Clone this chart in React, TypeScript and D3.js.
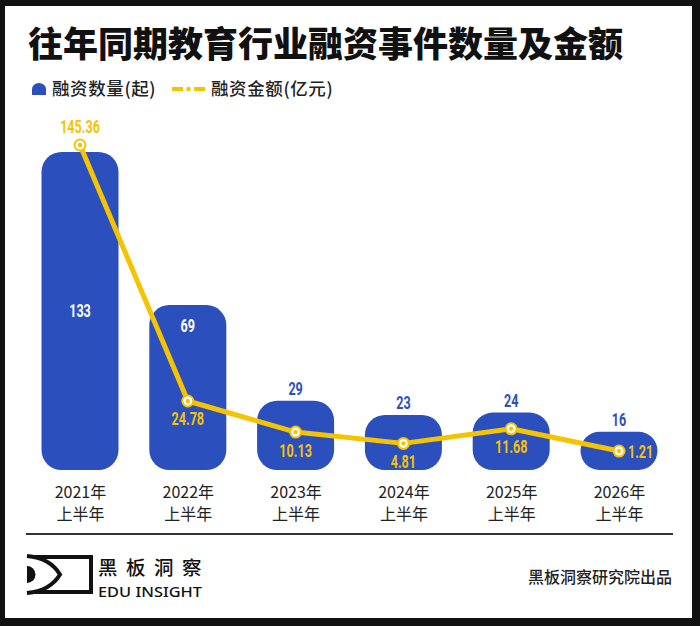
import React, { useRef, useEffect } from "react";
import * as d3 from "d3";

const years = ["2021年", "2022年", "2023年", "2024年", "2025年", "2026年"];
const halfLabel = "上半年";
const counts = [133, 69, 29, 23, 24, 16];
const amounts = [145.36, 24.78, 10.13, 4.81, 11.68, 1.21];

const BLUE = "#2b50be";
const YELLOW = "#f6c300";
const NUM_FONT = "Roboto, sans-serif";
const CJK = "'Noto Sans CJK SC', sans-serif";
const SQUEEZE = 0.7; // condensed look for the numbers

const App: React.FC = () => {
  const ref = useRef<SVGSVGElement | null>(null);

  useEffect(() => {
    const svg = d3.select(ref.current);
    svg.selectAll("*").remove();

    const width = 700;
    const height = 626;
    svg.attr("width", width).attr("height", height);

    // frame
    svg.append("rect").attr("width", width).attr("height", height).attr("fill", "#111");
    svg.append("rect").attr("x", 5).attr("y", 6).attr("width", 687).attr("height", 612).attr("fill", "#fff");

    // title
    svg
      .append("text")
      .attr("x", 28)
      .attr("y", 57)
      .attr("font-family", CJK)
      .attr("font-weight", 900)
      .attr("font-size", 35)
      .attr("fill", "#111")
      .text("往年同期教育行业融资事件数量及金额");

    // legend
    const leg = svg.append("g");
    leg
      .append("path")
      .attr("d", "M32,95 L32,89 A7,6 0 0 1 46,89 L46,95 Z")
      .attr("fill", BLUE);
    leg
      .append("text")
      .attr("x", 52)
      .attr("y", 95)
      .attr("font-family", CJK)
      .attr("font-weight", 500)
      .attr("font-size", 17.5)
      .attr("letter-spacing", 0.6)
      .attr("fill", "#222")
      .text("融资数量(起)");
    leg.append("line").attr("x1", 172).attr("x2", 183).attr("y1", 89).attr("y2", 89).attr("stroke", YELLOW).attr("stroke-width", 4);
    leg.append("line").attr("x1", 194).attr("x2", 205).attr("y1", 89).attr("y2", 89).attr("stroke", YELLOW).attr("stroke-width", 4);
    leg.append("circle").attr("cx", 188.5).attr("cy", 89).attr("r", 2.2).attr("fill", YELLOW);
    leg
      .append("text")
      .attr("x", 211)
      .attr("y", 95)
      .attr("font-family", CJK)
      .attr("font-weight", 500)
      .attr("font-size", 17.5)
      .attr("letter-spacing", 0.6)
      .attr("fill", "#222")
      .text("融资金额(亿元)");

    // scales
    const x = d3.scalePoint<string>().domain(years).range([80, 619]);
    const yBar = d3.scaleLinear().domain([0, d3.max(counts) as number]).range([470, 152]);
    const yLine = d3.scaleLinear().domain([0, d3.max(amounts) as number]).range([453.6, 145]);
    const barW = 77;

    const rows = years.map((yr, i) => ({ yr, i, count: counts[i], amount: amounts[i] }));

    // bars
    svg
      .append("g")
      .selectAll("rect")
      .data(rows)
      .enter()
      .append("rect")
      .attr("x", (d) => (x(d.yr) as number) - barW / 2)
      .attr("y", (d) => yBar(d.count))
      .attr("width", barW)
      .attr("height", (d) => yBar(0) - yBar(d.count))
      .attr("rx", (d) => Math.min(20, (yBar(0) - yBar(d.count)) / 2))
      .attr("fill", BLUE);

    // count labels
    svg
      .append("g")
      .selectAll("text")
      .data(rows)
      .enter()
      .append("text")
      .attr("transform", (d) => {
        const top = yBar(d.count);
        const h = yBar(0) - top;
        let ty = top - 12;
        if (h > 100) {
          const py = yLine(d.amount);
          ty = py > top ? top + 20 : (top + yBar(0)) / 2;
        }
        return `translate(${x(d.yr)},${ty}) scale(${SQUEEZE},1)`;
      })
      .attr("dy", "0.36em")
      .attr("text-anchor", "middle")
      .attr("font-family", NUM_FONT)
      .attr("font-weight", 700)
      .attr("font-size", 18)
      .attr("fill", (d) => (yBar(0) - yBar(d.count) > 100 ? "#fff" : BLUE))
      .text((d) => d.count);

    // line
    const line = d3
      .line<(typeof rows)[number]>()
      .x((d) => x(d.yr) as number)
      .y((d) => yLine(d.amount));
    svg
      .append("path")
      .datum(rows)
      .attr("d", line)
      .attr("fill", "none")
      .attr("stroke", YELLOW)
      .attr("stroke-width", 5)
      .attr("stroke-linejoin", "round");

    const pts = svg.append("g").selectAll("g").data(rows).enter().append("g");
    pts
      .append("circle")
      .attr("cx", (d) => x(d.yr) as number)
      .attr("cy", (d) => yLine(d.amount))
      .attr("r", 5.5)
      .attr("fill", "#fff")
      .attr("stroke", YELLOW)
      .attr("stroke-width", 2);
    pts
      .append("circle")
      .attr("cx", (d) => x(d.yr) as number)
      .attr("cy", (d) => yLine(d.amount))
      .attr("r", 2.2)
      .attr("fill", YELLOW);

    // amount labels
    const last = rows.length - 1;
    svg
      .append("g")
      .selectAll("text")
      .data(rows)
      .enter()
      .append("text")
      .attr("transform", (d) => {
        const py = yLine(d.amount);
        let ty = py + 18;
        if (py < yBar(d.count)) ty = py - 18;
        else if (d.i === last) ty = py;
        const tx = (x(d.yr) as number) + (d.i === last ? 9 : 0);
        return `translate(${tx},${ty}) scale(${SQUEEZE},1)`;
      })
      .attr("dy", "0.36em")
      .attr("text-anchor", (d) => (d.i === last ? "start" : "middle"))
      .attr("font-family", NUM_FONT)
      .attr("font-weight", 700)
      .attr("font-size", 18)
      .attr("fill", YELLOW)
      .text((d) => d.amount.toFixed(2));

    // x axis: year line from the axis, second line added under each tick
    const axis = svg
      .append("g")
      .attr("transform", "translate(0, 475)")
      .call(d3.axisBottom(x).tickSize(0).tickPadding(0));
    axis.select(".domain").remove();
    axis
      .selectAll<SVGTextElement, string>(".tick text")
      .attr("font-family", CJK)
      .attr("font-size", 16)
      .attr("fill", "#222")
      .attr("y", 23)
      .attr("dy", null);
    axis
      .selectAll<SVGGElement, string>(".tick")
      .append("text")
      .attr("y", 45)
      .attr("text-anchor", "middle")
      .attr("font-family", CJK)
      .attr("font-size", 16)
      .attr("fill", "#222")
      .text(halfLabel);

    // footer
    svg.append("line").attr("x1", 26).attr("x2", 673).attr("y1", 534).attr("y2", 534).attr("stroke", "#333").attr("stroke-width", 2);

    const logo = svg.append("g");
    logo
      .append("path")
      .attr("d", "M34,557 L91,557 L91,592 L34,592")
      .attr("fill", "none")
      .attr("stroke", "#111")
      .attr("stroke-width", 4);
    logo
      .append("path")
      .attr("d", "M27,556 Q50,558 60,574.5 Q50,591 27,593")
      .attr("fill", "none")
      .attr("stroke", "#111")
      .attr("stroke-width", 4);
    logo
      .append("path")
      .attr("d", "M27,566 A8.5,8.5 0 0 1 27,583 Z")
      .attr("fill", "#111");
    logo
      .append("text")
      .attr("x", 98)
      .attr("y", 575)
      .attr("font-family", CJK)
      .attr("font-weight", 500)
      .attr("font-size", 19.5)
      .attr("letter-spacing", 8.5)
      .attr("fill", "#111")
      .text("黑板洞察");
    logo
      .append("text")
      .attr("x", 98)
      .attr("y", 596.5)
      .attr("font-family", "'Noto Sans', sans-serif")
      .attr("font-weight", 500)
      .attr("font-size", 14)
      .attr("textLength", 104)
      .attr("lengthAdjust", "spacingAndGlyphs")
      .attr("fill", "#111")
      .text("EDU INSIGHT");

    svg
      .append("text")
      .attr("x", 672)
      .attr("y", 583)
      .attr("text-anchor", "end")
      .attr("font-family", CJK)
      .attr("font-weight", 500)
      .attr("font-size", 16)
      .attr("fill", "#222")
      .text("黑板洞察研究院出品");
  }, []);

  return <svg ref={ref} style={{ position: "fixed", left: 0, top: 0, display: "block" }}></svg>;
};

export default App;
